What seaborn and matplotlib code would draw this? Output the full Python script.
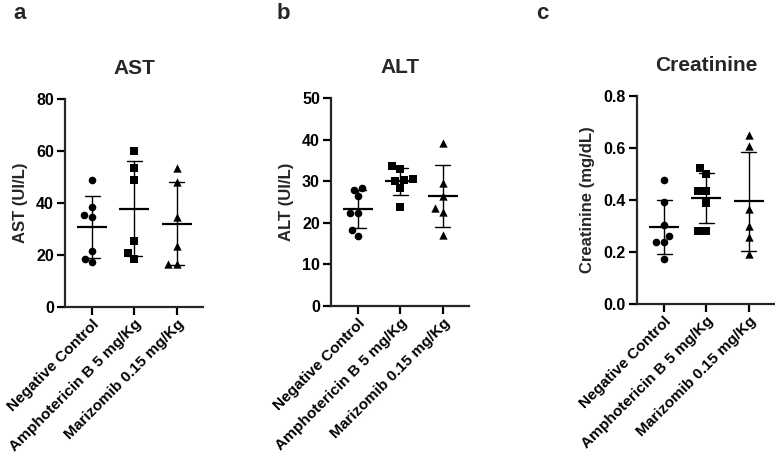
import numpy as np
import pandas as pd
import matplotlib
matplotlib.use('Agg')
import matplotlib.pyplot as plt
import seaborn as sns

# Groupes et valeurs
groups = ['Negative Control', 'Amphotericin B 5 mg/Kg', 'Marizomib 0.15 mg/Kg']
markers = ['o', 's', '^']

ast_neg = [48.8, 38.4, 35.5, 34.7, 21.4, 18.3, 17.2]
ast_amb = [59.9, 53.6, 48.8, 25.2, 20.9, 18.6]
ast_mzb = [53.5, 48.0, 34.7, 23.3, 16.5, 16.5]

alt_neg = [28.4, 28.0, 26.4, 22.4, 22.4, 18.2, 16.9]
alt_amb = [33.7, 33.0, 30.5, 30.2, 30.0, 28.4, 23.9]
alt_mzb = [39.3, 29.6, 26.4, 23.6, 22.6, 17.1]

crea_neg = [0.477, 0.391, 0.305, 0.260, 0.238, 0.238, 0.172]
crea_amb = [0.522, 0.500, 0.436, 0.436, 0.390, 0.281, 0.281]
crea_mzb = [0.650, 0.608, 0.365, 0.300, 0.256, 0.194]

panels = [
    ('a', 'AST', 'AST (UI/L)', [ast_neg, ast_amb, ast_mzb], [0, 20, 40, 60, 80], '{:.0f}'),
    ('b', 'ALT', 'ALT (UI/L)', [alt_neg, alt_amb, alt_mzb], [0, 10, 20, 30, 40, 50], '{:.0f}'),
    ('c', 'Creatinine', 'Creatinine (mg/dL)', [crea_neg, crea_amb, crea_mzb], [0, 0.2, 0.4, 0.6, 0.8], '{:.1f}'),
]

sns.set_style('ticks')
plt.rcParams['font.family'] = ['Liberation Sans', 'DejaVu Sans']
plt.rcParams['font.weight'] = 'bold'
plt.rcParams['axes.labelweight'] = 'bold'
plt.rcParams['axes.titleweight'] = 'bold'

fig = plt.figure(figsize=(7.75, 4.59), dpi=100)
positions = [
    (65 / 775, 1 - 307 / 459),
    (331 / 775, 1 - 306 / 459),
    (637 / 775, 1 - 304 / 459),
]
letter_x = [13, 277, 536]

for (letter, title, ylabel, values, yticks, fmt), (left, bottom), lx in zip(panels, positions, letter_x):
    ax = fig.add_axes([left, bottom, 138 / 775, 208 / 459])
    df = pd.DataFrame({
        'group': np.repeat(groups, [len(v) for v in values]),
        'value': np.concatenate(values),
    })

    # moyenne +/- SD
    sns.pointplot(data=df, x='group', y='value', order=groups, errorbar='sd',
                  capsize=0.35, linestyle='none', marker='_', markersize=22,
                  markeredgewidth=1.6, color='black',
                  err_kws={'linewidth': 1.0}, ax=ax)

    for g, m in zip(groups, markers):
        sub = df[df['group'] == g]
        sns.swarmplot(data=sub, x='group', y='value', order=groups, marker=m,
                      color='black', size=5.5 if m == 'o' else 6, ax=ax, zorder=5)

    ax.set_xlim(-0.64, 2.62)
    ax.set_ylim(yticks[0], yticks[-1])
    ax.set_yticks(yticks)
    ax.set_yticklabels([fmt.format(t) for t in yticks], fontsize=11.5, fontweight='bold')
    ax.set_xticks(range(len(groups)))
    ax.set_xticklabels(groups, rotation=45, ha='right', rotation_mode='anchor',
                       fontsize=11.1, fontweight='bold')
    ax.set_xlabel('')
    ax.set_ylabel(ylabel, fontsize=12, fontweight='bold', labelpad=6)
    ax.set_title(title, fontsize=15, fontweight='bold', pad=18)
    sns.despine(ax=ax)
    for s in ['left', 'bottom']:
        ax.spines[s].set_linewidth(1.6)
    ax.tick_params(width=1.6, length=6, colors='black', pad=2)
    ax.tick_params(axis='x', pad=1)

    fig.text(lx / 775, 1 - 3 / 459, letter, fontsize=16, fontweight='bold', va='top')

plt.savefig('out.png', dpi=100)
